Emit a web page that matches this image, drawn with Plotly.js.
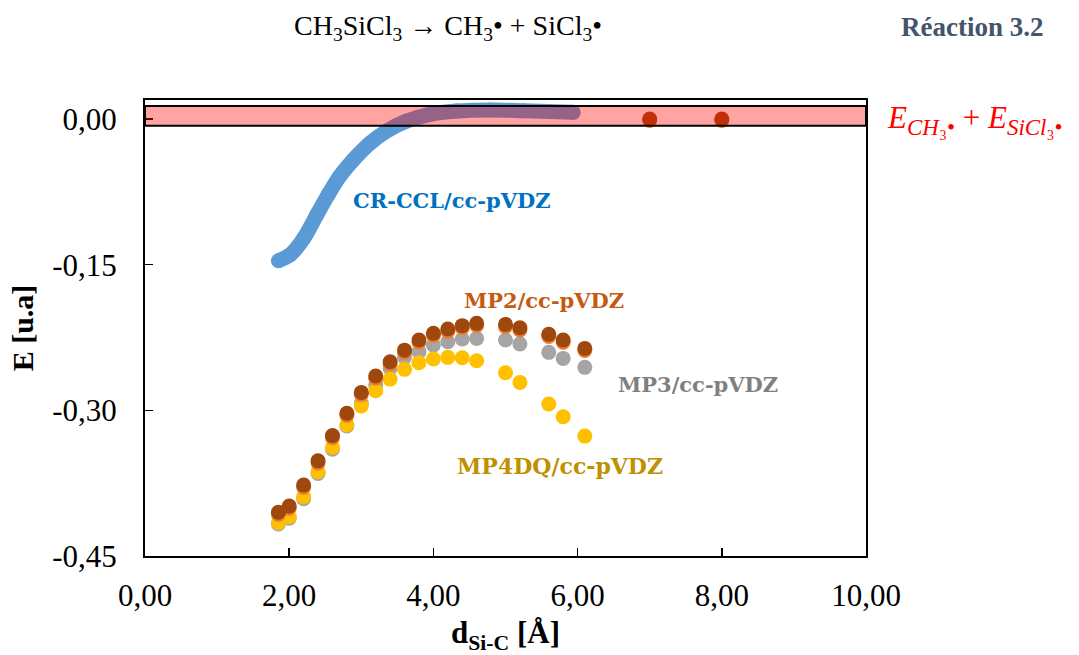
<!DOCTYPE html>
<html>
<head>
<meta charset="utf-8">
<script src="https://cdn.plot.ly/plotly-3.0.1.min.js"></script>
<style>html,body{margin:0;padding:0;background:#fff;}#chart{width:1079px;height:655px;}</style>
</head>
<body>
<div id="chart"></div>
<script>
// CR-CCL/cc-pVDZ scan (dense curve)
const crX = [1.85, 2.01, 2.20, 2.38, 2.54, 2.70, 2.89, 3.12, 3.35, 3.63, 3.95, 4.32, 4.79, 5.25, 5.94];
const crY = [-0.146, -0.140, -0.123, -0.099, -0.078, -0.059, -0.042, -0.025, -0.0124, -0.0021, 0.0048, 0.0082, 0.0093, 0.0086, 0.0069];

// MP series distances
const dMP = [1.85, 2.0, 2.2, 2.4, 2.6, 2.8, 3.0, 3.2, 3.4, 3.6, 3.8, 4.0, 4.2, 4.4, 4.6, 5.0, 5.2, 5.6, 5.8, 6.1];
const dMPfar = [1.85, 2.0, 2.2, 2.4, 2.6, 2.8, 3.0, 3.2, 3.4, 3.6, 3.8, 4.0, 4.2, 4.4, 4.6, 5.0, 5.2, 5.6, 5.8, 6.1, 7.0, 8.0];

const mp3 = [-0.417, -0.411, -0.391, -0.365, -0.340, -0.316, -0.293, -0.274, -0.2568, -0.2454, -0.2396, -0.2328, -0.2293, -0.2266, -0.2259, -0.2276, -0.2317, -0.2403, -0.2465, -0.2557];
const mp4dq = [-0.4157, -0.4096, -0.389, -0.3632, -0.3381, -0.3151, -0.2956, -0.2798, -0.2678, -0.2578, -0.251, -0.2472, -0.2454, -0.2458, -0.2489, -0.2613, -0.2712, -0.2935, -0.3066, -0.3265];
const mp2 = [-0.4072, -0.4008, -0.3793, -0.3543, -0.3283, -0.3053, -0.2838, -0.2670, -0.2523, -0.2403, -0.2298, -0.2229, -0.2185, -0.2150, -0.2126, -0.2138, -0.2172, -0.2240, -0.2299, -0.2384, -0.0015, -0.0015];
const mpBrown = [-0.405, -0.3986, -0.377, -0.352, -0.326, -0.303, -0.2815, -0.2647, -0.25, -0.238, -0.2276, -0.2207, -0.2163, -0.2128, -0.2104, -0.2115, -0.2149, -0.2217, -0.2276, -0.2362, 0.0, 0.0];

// Axis ticks
const xTickVals = [0, 2, 4, 6, 8, 10];
const xTickText = ['0,00', '2,00', '4,00', '6,00', '8,00', '10,00'];
const yTickVals = [0, -0.15, -0.30, -0.45];
const yTickText = ['0,00', '-0,15', '-0,30', '-0,45'];

// Reference band (E_CH3 + E_SiCl3)
const bandLow = -0.0069;
const bandHigh = 0.0134;

const serif = 'Liberation Serif, Times New Roman, serif';
const labelFont = 'DejaVu Serif, serif';

const mk = (x, y, color, name) => ({
  type: 'scatter', mode: 'markers', x: x, y: y, name: name,
  marker: {color: color, size: 15, line: {width: 0}}, hoverinfo: 'skip', cliponaxis: false
});

const traces = [
  {type: 'scatter', mode: 'lines+markers', x: crX, y: crY, name: 'CR-CCL',
   line: {color: '#5B9BD5', width: 15, shape: 'spline'},
   marker: {color: '#5B9BD5', size: 15}, hoverinfo: 'skip'},
  mk(dMP, mp3, '#A5A5A5', 'MP3'),
  mk(dMP, mp4dq, '#FFC000', 'MP4DQ'),
  mk(dMPfar, mp2, '#ED7D31', 'MP2'),
  mk(dMPfar, mpBrown, '#9E480E', 'MP4')
];

const axisCommon = {
  showline: true, mirror: true, linecolor: '#000', linewidth: 2,
  ticks: 'inside', ticklen: 8, tickwidth: 1.5, tickcolor: '#000',
  showgrid: false, zeroline: false,
  tickfont: {family: serif, size: 31, color: '#000'}
};

const layout = {
  width: 1079, height: 655,
  margin: {l: 145, r: 213, t: 100, b: 99},
  paper_bgcolor: '#fff', plot_bgcolor: '#fff',
  showlegend: false,
  xaxis: Object.assign({}, axisCommon, {
    range: [0, 10], tickmode: 'array', tickvals: xTickVals, ticktext: xTickText,
    ticklabelstandoff: 11,
    title: {text: '<b>d<sub>Si-C</sub> [Å]</b>', font: {family: serif, size: 31, color: '#000'}, standoff: 15}
  }),
  yaxis: Object.assign({}, axisCommon, {
    range: [-0.45, 0.0196], tickmode: 'array', tickvals: yTickVals, ticktext: yTickText,
    ticklabelstandoff: 20,
    title: {text: '<b>E [u.a]</b>', font: {family: serif, size: 30, color: '#000'}, standoff: 10}
  }),
  shapes: [{
    type: 'rect', xref: 'paper', x0: 0, x1: 1, yref: 'y', y0: bandLow, y1: bandHigh,
    fillcolor: 'rgba(255,0,0,0.36)', line: {color: '#000', width: 2}, layer: 'above'
  }],
  annotations: [
    {xref: 'paper', yref: 'paper', x: 0.42, y: 1.16, xanchor: 'center', yanchor: 'middle', showarrow: false,
     text: 'CH<sub>3</sub>SiCl<sub>3</sub> <b>→</b> CH<sub>3</sub>• + SiCl<sub>3</sub>•', font: {family: serif, size: 28, color: '#000'}},
    {xref: 'paper', yref: 'paper', x: 1.147, y: 1.16, xanchor: 'center', yanchor: 'middle', showarrow: false,
     text: '<b>Réaction 3.2</b>', font: {family: serif, size: 27, color: '#44546A'}},
    {xref: 'paper', yref: 'y', x: 1.027, y: -0.001, xanchor: 'left', yanchor: 'middle', showarrow: false,
     text: '<i>E</i><sub><span style="font-size:23px"><i>CH</i>₃•</span></sub> + <i>E</i><sub><span style="font-size:23px"><i>SiCl</i>₃•</span></sub>',
     font: {family: serif, size: 31, color: '#FF0000'}},
    {x: 4.26, y: -0.0834, xanchor: 'center', yanchor: 'middle', showarrow: false,
     text: '<b>CR-CCL/cc-pVDZ</b>', font: {family: labelFont, size: 21, color: '#0070C0'}},
    {x: 5.53, y: -0.1864, xanchor: 'center', yanchor: 'middle', showarrow: false,
     text: '<b>MP2/cc-pVDZ</b>', font: {family: labelFont, size: 21, color: '#C55A11'}},
    {x: 7.67, y: -0.2729, xanchor: 'center', yanchor: 'middle', showarrow: false,
     text: '<b>MP3/cc-pVDZ</b>', font: {family: labelFont, size: 21, color: '#7F7F7F'}},
    {x: 5.76, y: -0.3573, xanchor: 'center', yanchor: 'middle', showarrow: false,
     text: '<b>MP4DQ/cc-pVDZ</b>', font: {family: labelFont, size: 22, color: '#BF9000'}}
  ]
};

Plotly.newPlot('chart', traces, layout, {displayModeBar: false, staticPlot: true});
</script>
</body>
</html>
